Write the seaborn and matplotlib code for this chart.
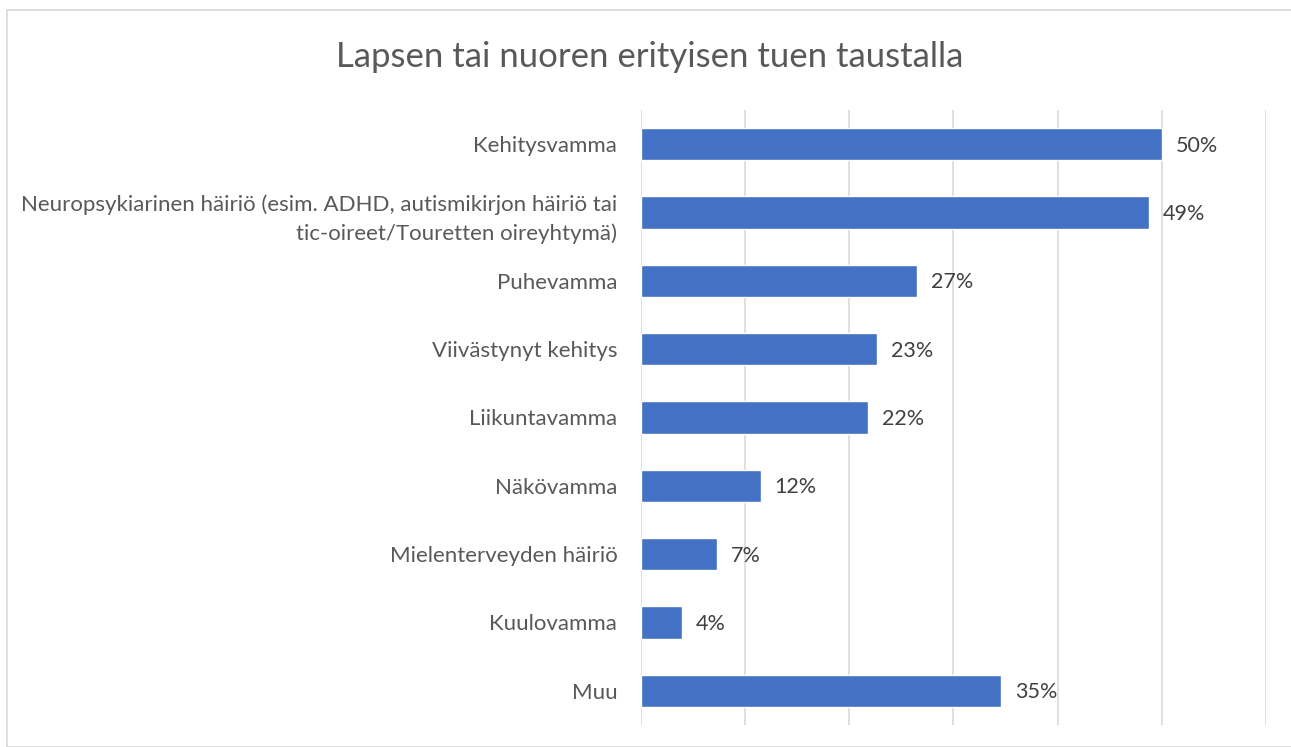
import matplotlib
matplotlib.use("Agg")
import matplotlib.pyplot as plt
import seaborn as sns
import pandas as pd
from matplotlib.patches import Rectangle

# data
categories = [
    "Kehitysvamma",
    "Neuropsykiarinen häiriö (esim. ADHD, autismikirjon häiriö tai\ntic-oireet/Touretten oireyhtymä)",
    "Puhevamma",
    "Viivästynyt kehitys",
    "Liikuntavamma",
    "Näkövamma",
    "Mielenterveyden häiriö",
    "Kuulovamma",
    "Muu",
]
values = [50.0, 48.8, 26.5, 22.7, 21.8, 11.5, 7.3, 3.9, 34.6]
labels = ["50%", "49%", "27%", "23%", "22%", "12%", "7%", "4%", "35%"]

df = pd.DataFrame({"category": categories, "value": values})

sns.set_style("white")
plt.rcParams["font.family"] = ["Lato", "DejaVu Sans"]

fig = plt.figure(figsize=(12.91, 7.47), dpi=100)
ax = fig.add_axes([0.4965, 0.0295, 0.4841, 0.8232])

sns.barplot(data=df, x="value", y="category", orient="h", color="#4472C4",
            saturation=1, width=0.47, ax=ax)

# data labels
for i, (v, lab) in enumerate(zip(values, labels)):
    ax.annotate(lab, (v, i), xytext=(10, -1), textcoords="offset points",
                va="center", ha="left", fontsize=15.5, color="#404040")

ax.set_xlim(0, 60)
ax.set_xticks(range(0, 61, 10))
ax.xaxis.grid(True, color="#D9D9D9", linewidth=1.2)
ax.set_axisbelow(True)
ax.tick_params(axis="x", labelbottom=False, length=0)
ax.tick_params(axis="y", length=0, pad=17, labelsize=16, labelcolor="#595959")
for t in ax.get_yticklabels():
    t.set_linespacing(1.55)
ax.set_xlabel("")
ax.set_ylabel("")
for s in ax.spines.values():
    s.set_visible(False)

fig.text(0.503, 0.924, "Lapsen tai nuoren erityisen tuen taustalla",
         ha="center", va="center", fontsize=25, color="#595959")

# chart border
fig.patches.append(Rectangle((7 / 1291, 0), 1, 1 - 10 / 747,
                             transform=fig.transFigure, fill=False,
                             edgecolor="#D9D9D9", linewidth=1.2))

fig.savefig("out.png", dpi=100)
